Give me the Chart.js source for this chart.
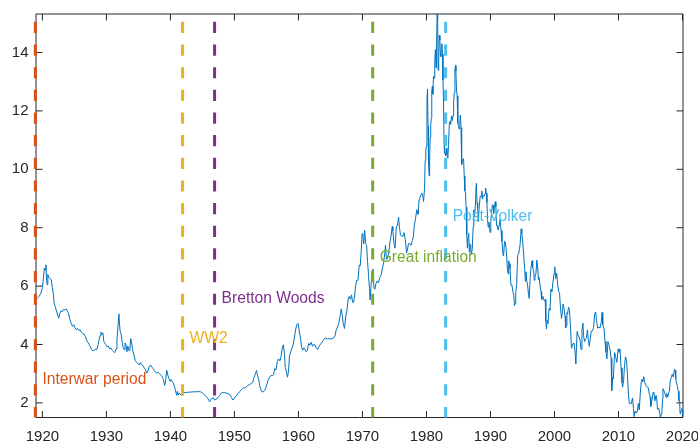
<!DOCTYPE html>
<html>
<head>
<meta charset="utf-8">
<script src="https://cdn.jsdelivr.net/npm/chart.js@4.4.1/dist/chart.umd.min.js"></script>
<style>
html,body{margin:0;padding:0;background:#fff;}
#wrap{width:698px;height:442px;}
</style>
</head>
<body>
<div id="wrap"><canvas id="c" width="698" height="442"></canvas></div>
<script>
// ---- DATA ----
// [decimal year, 10-year yield %]
const yieldSeries = [
[1919.00,5.55],[1919.25,5.60],[1919.50,5.65],[1919.75,5.75],[1920.00,5.95],[1920.15,6.25],[1920.30,6.62],[1920.42,6.55],[1920.55,6.73],[1920.65,6.20],[1920.75,6.05],[1920.85,6.40],
[1921.00,6.30],[1921.20,6.25],[1921.40,6.22],[1921.55,5.95],[1921.70,5.75],[1921.85,5.40],[1922.00,5.30],[1922.20,5.15],[1922.40,5.00],[1922.55,4.90],[1922.70,5.05],[1922.90,5.15],
[1923.10,5.12],[1923.30,5.20],[1923.50,5.18],[1923.70,5.22],[1923.90,5.15],[1924.10,5.05],[1924.30,4.85],[1924.50,4.72],[1924.70,4.62],[1924.90,4.68],[1925.10,4.58],[1925.30,4.50],
[1925.50,4.55],[1925.70,4.48],[1925.90,4.50],[1926.10,4.42],[1926.30,4.38],[1926.50,4.36],[1926.70,4.28],[1926.90,4.15],[1927.10,4.08],[1927.30,4.00],[1927.50,3.92],[1927.70,3.82],
[1927.90,3.78],[1928.10,3.80],[1928.30,3.85],[1928.50,3.82],[1928.70,4.00],[1928.85,4.15],[1929.00,4.30],[1929.15,4.42],[1929.30,4.35],[1929.45,4.40],[1929.60,4.10],[1929.75,4.05],
[1929.90,4.00],[1930.10,3.92],[1930.30,3.95],[1930.50,3.85],[1930.70,3.88],[1930.90,3.80],[1931.10,3.76],[1931.30,3.72],[1931.50,3.85],[1931.65,4.15],[1931.80,4.60],[1931.95,5.05],
[1932.05,4.70],[1932.15,4.45],[1932.30,4.35],[1932.45,4.10],[1932.60,3.90],[1932.75,3.82],[1932.90,4.05],[1933.05,4.00],[1933.20,3.75],[1933.35,3.95],[1933.50,3.80],[1933.65,3.78],
[1933.80,4.20],[1933.95,4.05],[1934.10,3.80],[1934.30,3.65],[1934.50,3.45],[1934.70,3.40],[1934.90,3.35],[1935.10,3.30],[1935.30,3.38],[1935.50,3.30],[1935.70,3.28],[1935.90,3.20],
[1936.10,3.15],[1936.30,3.02],[1936.50,3.10],[1936.70,3.25],[1936.90,3.30],[1937.10,3.22],[1937.30,3.18],[1937.50,3.10],[1937.70,3.05],[1937.90,3.02],[1938.10,3.05],[1938.30,3.00],
[1938.50,2.95],[1938.70,2.90],[1938.90,2.80],[1939.10,2.60],[1939.25,2.75],[1939.42,3.12],[1939.60,2.95],[1939.75,2.85],[1939.94,2.74],[1940.10,2.80],[1940.30,2.72],[1940.46,2.68],
[1940.65,2.55],[1940.77,2.45],[1940.98,2.26],[1941.10,2.40],[1941.20,2.28],[1941.34,2.34],[1941.50,2.30],[1941.76,2.26],[1941.90,2.33],
[1942.00,2.33],[1942.30,2.36],[1942.60,2.36],[1942.90,2.37],[1943.20,2.37],[1943.50,2.38],[1943.80,2.38],[1944.10,2.38],[1944.40,2.39],[1944.70,2.38],[1945.00,2.35],[1945.20,2.30],
[1945.40,2.25],[1945.60,2.22],[1945.80,2.18],[1946.00,2.08],[1946.15,2.04],[1946.30,2.12],[1946.50,2.15],[1946.70,2.18],[1946.90,2.10],[1947.10,2.12],[1947.30,2.15],[1947.50,2.22],
[1947.70,2.25],[1947.90,2.33],[1948.10,2.36],[1948.40,2.35],[1948.70,2.34],[1949.00,2.32],[1949.30,2.28],[1949.55,2.18],[1949.75,2.10],[1949.95,2.14],[1950.20,2.22],[1950.50,2.30],
[1950.80,2.38],[1951.10,2.45],[1951.40,2.52],[1951.70,2.52],[1952.00,2.58],[1952.30,2.62],[1952.60,2.66],[1952.90,2.72],
[1953.00,2.83],[1953.20,2.95],[1953.35,3.05],[1953.45,3.11],[1953.60,2.95],[1953.80,2.80],[1953.95,2.59],[1954.10,2.48],[1954.30,2.38],[1954.50,2.38],[1954.70,2.42],[1954.90,2.51],
[1955.10,2.65],[1955.30,2.80],[1955.50,2.88],[1955.70,2.94],[1955.90,2.93],[1956.10,2.96],[1956.30,3.18],[1956.50,3.13],[1956.70,3.41],[1956.90,3.51],[1957.10,3.44],[1957.30,3.60],
[1957.50,3.93],[1957.65,3.99],[1957.80,3.70],[1957.95,3.21],[1958.10,3.09],[1958.30,2.88],[1958.45,3.08],[1958.60,3.60],[1958.80,3.76],[1958.95,3.86],[1959.15,3.98],[1959.35,4.22],
[1959.55,4.50],[1959.75,4.69],[1959.95,4.72],[1960.10,4.50],[1960.30,4.25],[1960.50,3.90],[1960.65,3.80],[1960.85,3.89],[1961.00,3.84],[1961.20,3.75],[1961.40,3.80],[1961.60,4.04],
[1961.80,3.98],[1962.00,4.08],[1962.20,3.94],[1962.40,4.00],[1962.60,3.98],[1962.80,3.87],[1963.00,3.83],[1963.30,3.97],[1963.60,4.05],[1963.90,4.14],[1964.20,4.23],[1964.50,4.19],
[1964.80,4.20],[1965.10,4.19],[1965.40,4.21],[1965.70,4.29],[1965.90,4.50],[1966.10,4.60],[1966.30,4.73],[1966.55,5.02],[1966.70,5.22],[1966.85,5.00],[1967.00,4.72],[1967.20,4.55],
[1967.40,4.97],[1967.60,5.20],[1967.80,5.62],[1967.95,5.65],[1968.10,5.55],[1968.30,5.70],[1968.45,5.45],[1968.60,5.44],[1968.80,5.70],[1968.95,6.03],[1969.10,6.20],[1969.30,6.20],
[1969.50,6.72],[1969.65,6.69],[1969.80,7.16],[1969.95,7.80],[1970.05,7.79],[1970.20,7.45],[1970.35,7.91],[1970.50,7.46],[1970.65,7.39],[1970.80,6.84],[1970.95,6.39],[1971.10,5.91],
[1971.20,5.53],[1971.35,6.00],[1971.50,6.52],[1971.65,6.58],[1971.80,5.93],[1971.95,5.89],[1972.10,6.08],[1972.30,6.17],[1972.50,6.11],[1972.70,6.29],[1972.90,6.36],[1973.10,6.58],
[1973.30,6.80],[1973.50,7.13],[1973.60,7.40],[1973.75,6.91],[1973.90,6.95],[1974.10,7.14],[1974.30,7.51],[1974.50,7.75],[1974.65,8.04],[1974.75,7.90],[1974.95,7.43],[1975.10,7.30],
[1975.30,8.05],[1975.45,8.06],[1975.65,8.36],[1975.80,7.97],[1975.95,7.76],[1976.10,7.71],[1976.30,7.70],[1976.50,7.83],[1976.70,7.59],[1976.90,7.14],[1977.00,7.21],[1977.20,7.46],
[1977.40,7.46],[1977.60,7.40],[1977.80,7.56],[1977.95,7.69],[1978.10,8.07],[1978.30,8.32],[1978.50,8.62],[1978.70,8.45],[1978.85,8.96],[1978.95,9.01],[1979.10,9.11],[1979.30,9.18],
[1979.45,9.06],[1979.55,8.90],[1979.70,9.33],[1979.80,10.30],[1979.90,10.65],[1980.00,10.80],[1980.08,12.41],[1980.17,12.75],[1980.25,11.47],[1980.33,10.18],[1980.42,9.78],[1980.50,10.25],
[1980.58,11.10],[1980.67,11.51],[1980.75,11.75],[1980.83,12.68],[1980.92,12.84],[1981.00,12.57],[1981.10,13.19],[1981.20,13.12],[1981.30,13.68],[1981.40,14.10],[1981.50,13.47],[1981.58,14.28],
[1981.67,15.32],[1981.75,15.15],[1981.83,13.39],[1981.92,13.72],[1982.00,14.59],[1982.10,14.43],[1982.20,13.86],[1982.30,13.87],[1982.40,14.30],[1982.50,13.95],[1982.58,13.06],[1982.67,12.34],
[1982.75,10.91],[1982.83,10.55],[1982.92,10.54],[1983.00,10.46],[1983.10,10.72],[1983.20,10.51],[1983.35,10.38],[1983.45,10.85],[1983.58,11.59],[1983.67,11.65],[1983.80,11.54],[1983.92,11.83],
[1984.05,11.67],[1984.15,11.84],[1984.25,12.32],[1984.35,12.63],[1984.45,13.41],[1984.55,13.56],[1984.60,13.36],[1984.70,12.72],[1984.80,12.52],[1984.90,11.57],[1985.00,11.50],[1985.10,11.38],
[1985.20,11.51],[1985.30,11.86],[1985.40,11.43],[1985.50,10.16],[1985.60,10.31],[1985.70,10.33],[1985.80,10.37],[1985.90,9.78],[1986.00,9.26],[1986.10,9.19],[1986.20,8.70],[1986.30,7.78],
[1986.40,7.30],[1986.50,7.71],[1986.60,7.80],[1986.70,7.17],[1986.80,7.45],[1986.90,7.43],[1987.00,7.08],[1987.15,7.25],[1987.30,8.02],[1987.40,8.61],[1987.50,8.38],[1987.65,8.76],
[1987.75,9.42],[1987.80,9.52],[1987.90,8.86],[1988.00,8.67],[1988.10,8.21],[1988.25,8.72],[1988.40,9.09],[1988.55,9.06],[1988.65,9.26],[1988.75,8.98],[1988.90,9.11],[1989.05,9.09],
[1989.15,9.17],[1989.25,9.36],[1989.35,9.18],[1989.45,8.86],[1989.55,8.28],[1989.65,8.02],[1989.75,8.19],[1989.85,8.01],[1989.95,7.84],[1990.05,8.21],[1990.15,8.47],[1990.30,8.79],
[1990.40,8.76],[1990.50,8.48],[1990.65,8.75],[1990.75,8.89],[1990.85,8.72],[1990.95,8.08],[1991.05,8.09],[1991.20,7.92],[1991.35,8.07],[1991.50,8.28],[1991.65,7.90],[1991.80,7.53],
[1991.95,7.09],[1992.05,7.03],[1992.20,7.54],[1992.35,7.48],[1992.50,7.14],[1992.65,6.59],[1992.75,6.42],[1992.85,6.87],[1992.95,6.77],[1993.05,6.60],[1993.20,6.03],[1993.35,6.04],
[1993.50,5.81],[1993.65,5.68],[1993.75,5.33],[1993.85,5.40],[1993.95,5.77],[1994.10,6.07],[1994.25,7.05],[1994.40,7.10],[1994.55,7.30],[1994.65,7.46],[1994.80,7.96],[1994.90,7.81],
[1995.05,7.48],[1995.20,7.06],[1995.35,6.57],[1995.45,6.17],[1995.55,6.49],[1995.65,6.20],[1995.80,6.04],[1995.95,5.71],[1996.05,5.58],[1996.20,6.27],[1996.35,6.64],[1996.50,6.87],
[1996.60,6.64],[1996.75,6.53],[1996.85,6.20],[1996.95,6.30],[1997.10,6.42],[1997.25,6.89],[1997.35,6.71],[1997.50,6.22],[1997.60,6.30],[1997.75,6.03],[1997.90,5.81],[1998.00,5.54],
[1998.20,5.65],[1998.40,5.50],[1998.55,5.54],[1998.65,4.81],[1998.75,4.53],[1998.85,4.83],[1999.00,4.72],[1999.15,5.23],[1999.30,5.18],[1999.45,5.90],[1999.60,5.80],[1999.75,6.11],
[1999.95,6.45],[2000.05,6.66],[2000.20,6.26],[2000.35,6.44],[2000.50,6.05],[2000.65,5.83],[2000.80,5.74],[2000.95,5.24],[2001.10,4.89],[2001.25,5.14],[2001.35,5.39],[2001.50,5.24],
[2001.65,4.97],[2001.75,4.57],[2001.85,4.65],[2001.95,5.09],[2002.05,5.04],[2002.20,5.28],[2002.35,5.16],[2002.50,4.65],[2002.65,3.87],[2002.75,3.94],[2002.90,4.03],[2003.05,4.05],
[2003.20,3.81],[2003.35,3.33],[2003.45,3.98],[2003.55,4.45],[2003.70,4.29],[2003.85,4.27],[2004.00,4.15],[2004.15,3.83],[2004.30,4.50],[2004.45,4.73],[2004.55,4.30],[2004.70,4.10],
[2004.85,4.19],[2005.00,4.22],[2005.15,4.50],[2005.30,4.14],[2005.45,3.94],[2005.60,4.20],[2005.75,4.46],[2005.95,4.47],[2006.10,4.57],[2006.30,5.07],[2006.45,5.11],[2006.55,4.88],
[2006.75,4.56],[2006.95,4.60],[2007.10,4.56],[2007.30,4.75],[2007.45,5.10],[2007.55,4.67],[2007.75,4.53],[2007.90,4.10],[2008.05,3.74],[2008.20,3.51],[2008.35,4.10],[2008.50,4.01],
[2008.70,3.81],[2008.85,3.53],[2008.95,2.42],[2009.10,2.87],[2009.20,2.82],[2009.40,3.72],[2009.55,3.59],[2009.75,3.39],[2009.95,3.85],[2010.10,3.73],[2010.25,3.85],[2010.40,3.20],
[2010.55,2.70],[2010.65,2.54],[2010.80,2.76],[2010.95,3.29],[2011.10,3.58],[2011.25,3.46],[2011.40,3.00],[2011.55,2.30],[2011.70,1.98],[2011.85,1.98],[2012.00,1.97],[2012.20,2.17],
[2012.35,1.80],[2012.45,1.53],[2012.60,1.72],[2012.75,1.65],[2012.95,1.72],[2013.10,1.98],[2013.25,1.76],[2013.40,2.30],[2013.55,2.71],[2013.65,2.81],[2013.80,2.72],[2013.95,2.90],
[2014.10,2.71],[2014.30,2.60],[2014.50,2.54],[2014.65,2.53],[2014.80,2.33],[2014.95,2.21],[2015.05,1.88],[2015.20,2.04],[2015.40,2.36],[2015.55,2.32],[2015.70,2.07],[2015.85,2.26],
[2015.95,2.24],[2016.10,1.78],[2016.30,1.81],[2016.45,1.64],[2016.55,1.50],[2016.70,1.63],[2016.80,1.76],[2016.90,2.14],[2016.95,2.49],[2017.10,2.42],[2017.30,2.30],[2017.45,2.19],
[2017.55,2.32],[2017.70,2.20],[2017.85,2.36],[2017.95,2.40],[2018.10,2.76],[2018.25,2.87],[2018.40,2.98],[2018.55,2.89],[2018.65,2.89],[2018.75,3.15],[2018.85,3.12],[2018.95,2.83],
[2019.05,2.71],[2019.20,2.57],[2019.35,2.40],[2019.45,2.07],[2019.55,2.06],[2019.63,1.63],[2019.70,1.70],[2019.80,1.71],[2019.90,1.81],[2020.00,1.76],[2020.083,1.50]
];
const eventNames = ["Interwar period","WW2","Bretton Woods","Great inflation","Post-Volker"];
const eventYears = [1918.9, 1941.9, 1946.9, 1971.6, 1983.0];
const xTicks = [1920,1930,1940,1950,1960,1970,1980,1990,2000,2010,2020];
const yTicks = [2,4,6,8,10,12,14];

// ---- STYLE / LAYOUT ----
const eventColors = ["#D95319","#EDB120","#7E2F8E","#77AC30","#4DBEEE"];
const labelLevels = [2.85, 4.25, 5.62, 7.02, 8.42];   // label vertical positions (data units)
const labelShift = 1.1;                                // label x offset from line (years)
const X_MIN = 1919, X_MAX = 2020.083, Y_MIN = 1.5, Y_MAX = 15.32;
const FONT = '"Liberation Sans", Arial, Helvetica, sans-serif';
const AXIS_COLOR = '#262626';

const datasets = [];
eventYears.forEach((yr, i) => {
  datasets.push({
    data: [{x: yr, y: Y_MAX}, {x: yr, y: Y_MIN}],
    borderColor: eventColors[i],
    borderWidth: 3,
    borderDash: [11.2, 11.45],
    borderDashOffset: 14.8,
    borderCapStyle: 'butt',
    pointRadius: 0,
    clip: false,
    order: 1
  });
});
datasets.push({
  data: yieldSeries.map(p => ({x: p[0], y: p[1]})),
  borderColor: '#0072BD',
  borderWidth: 1,
  pointRadius: 0,
  tension: 0,
  order: 10
});

const decorPlugin = {
  id: 'decor',
  beforeDatasetsDraw(chart) {
    const ctx = chart.ctx, a = chart.chartArea, xs = chart.scales.x, ys = chart.scales.y;
    const tl = 6.5;
    ctx.save();
    ctx.strokeStyle = AXIS_COLOR;
    ctx.lineWidth = 1;
    ctx.beginPath();
    ctx.rect(a.left, a.top, a.right - a.left, a.bottom - a.top);
    ctx.stroke();
    ctx.beginPath();
    xTicks.forEach(v => {
      const px = xs.getPixelForValue(v);
      ctx.moveTo(px, a.bottom); ctx.lineTo(px, a.bottom - tl);
      ctx.moveTo(px, a.top); ctx.lineTo(px, a.top + tl);
    });
    yTicks.forEach(v => {
      const py = ys.getPixelForValue(v);
      ctx.moveTo(a.left, py); ctx.lineTo(a.left + tl, py);
      ctx.moveTo(a.right, py); ctx.lineTo(a.right - tl, py);
    });
    ctx.stroke();
    ctx.restore();
  },
  afterDatasetsDraw(chart) {
    const ctx = chart.ctx, xs = chart.scales.x, ys = chart.scales.y;
    ctx.save();
    const fs = 15.6;
    ctx.font = fs + 'px ' + FONT;
    ctx.textAlign = 'left';
    ctx.textBaseline = 'alphabetic';
    eventNames.forEach((name, i) => {
      const px = xs.getPixelForValue(eventYears[i] + labelShift);
      const py = ys.getPixelForValue(labelLevels[i]) + 0.716 * fs / 2;
      ctx.fillStyle = eventColors[i];
      ctx.fillText(name, px, py);
    });
    ctx.restore();
  }
};

new Chart(document.getElementById('c'), {
  type: 'line',
  data: { datasets },
  options: {
    responsive: false,
    animation: false,
    devicePixelRatio: 1,
    parsing: false,
    normalized: true,
    layout: { padding: { left: 0, right: 15, top: 14, bottom: 0 } },
    plugins: { legend: { display: false }, tooltip: { enabled: false } },
    scales: {
      x: {
        type: 'linear', min: X_MIN, max: X_MAX,
        grid: { display: false, drawTicks: false },
        border: { display: false },
        afterBuildTicks: s => { s.ticks = xTicks.map(v => ({ value: v })); },
        afterFit: s => { s.height = 24.5; s.paddingLeft = 0; s.paddingRight = 0; },
        ticks: {
          autoSkip: false, maxRotation: 0, minRotation: 0, padding: 10,
          color: AXIS_COLOR, font: { family: FONT, size: 15 },
          callback: v => String(v)
        }
      },
      y: {
        type: 'linear', min: Y_MIN, max: Y_MAX,
        grid: { display: false, drawTicks: false },
        border: { display: false },
        afterBuildTicks: s => { s.ticks = yTicks.map(v => ({ value: v })); },
        afterFit: s => { s.width = 36; s.paddingTop = 0; s.paddingBottom = 0; },
        ticks: {
          autoSkip: false, padding: 7.5,
          color: AXIS_COLOR, font: { family: FONT, size: 15 },
          callback: v => String(v)
        }
      }
    }
  },
  plugins: [decorPlugin]
});
</script>
</body>
</html>
